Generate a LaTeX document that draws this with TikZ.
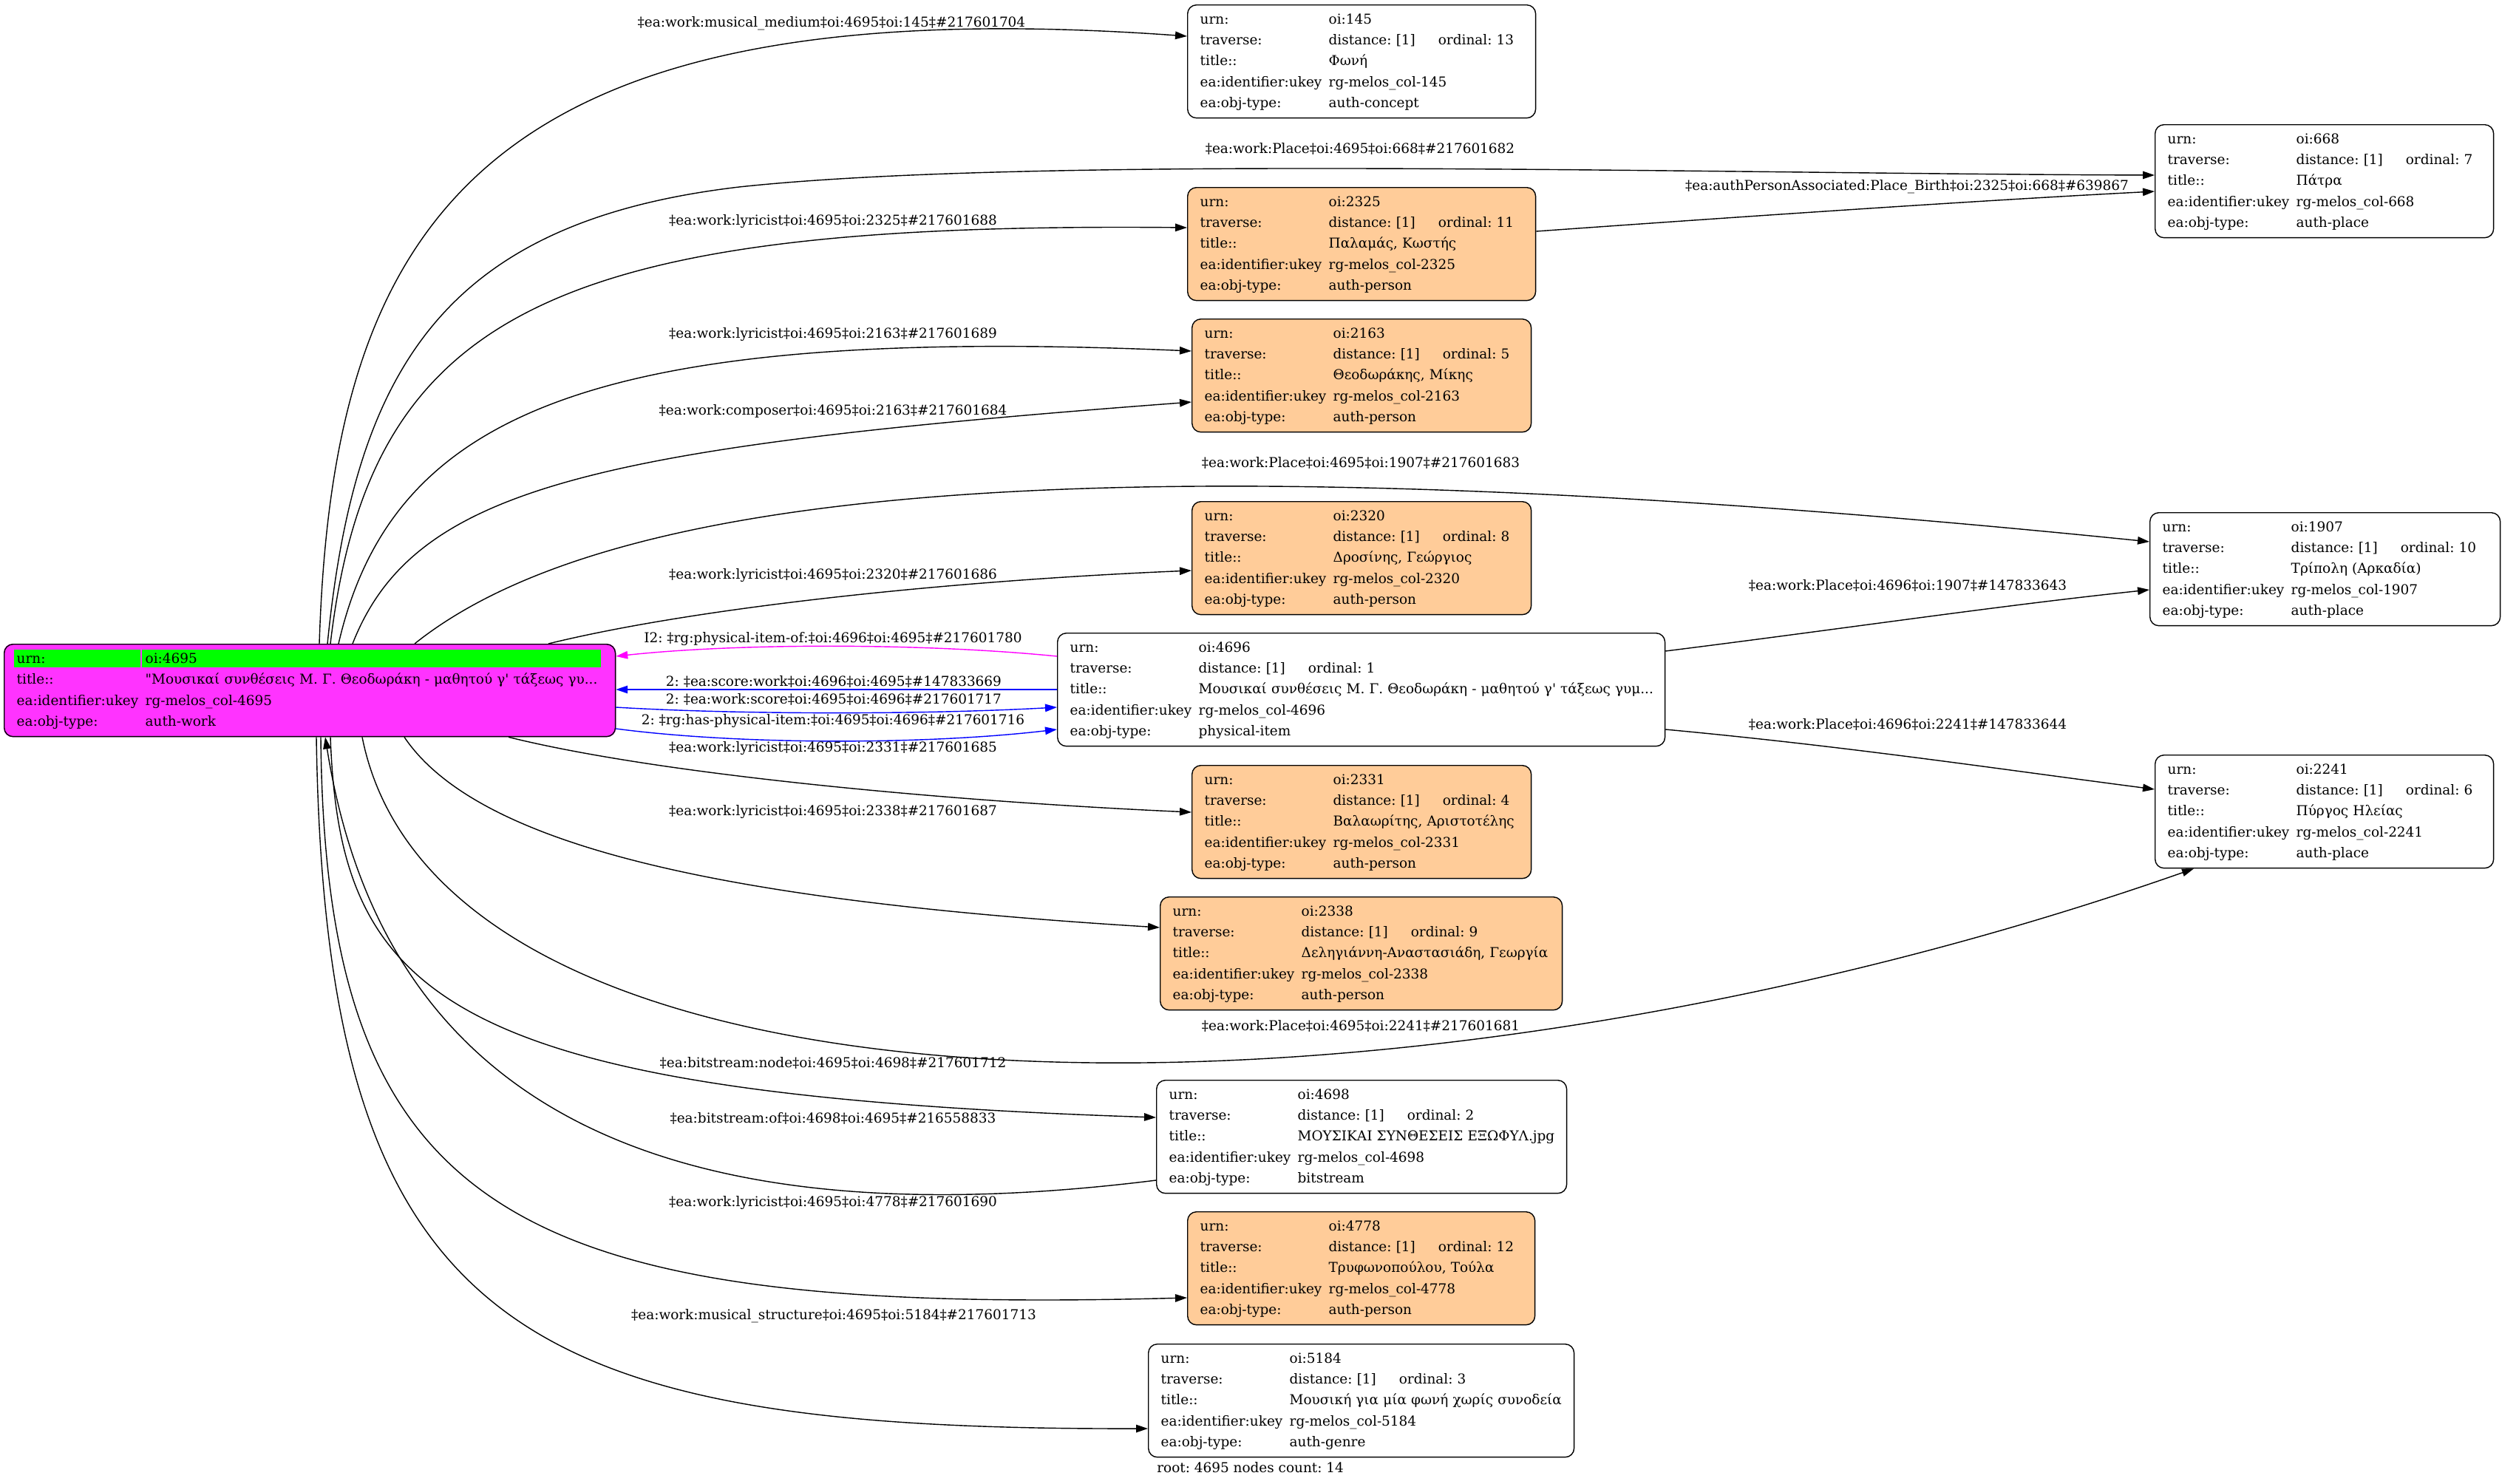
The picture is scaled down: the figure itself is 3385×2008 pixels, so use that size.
\documentclass[tikz,border=0pt]{standalone}
\usepackage{fontspec}
\newfontfamily\recfont{DejaVu Serif}
\usetikzlibrary{arrows.meta,backgrounds}
\definecolor{personfill}{HTML}{FFCC99}
\definecolor{rootfill}{HTML}{FF33FF}
\definecolor{urngreen}{HTML}{00FF00}
\definecolor{itemline}{HTML}{FF00FF}
\definecolor{scoreline}{HTML}{0000FF}
\frenchspacing

% record table: urn number, ordinal, title, object type
\newcommand{\objtable}[4]{%
  \begin{tabular}{@{}p{3.48cm}@{}l@{}}
    urn: & oi:#1\\
    traverse: & distance: [1]\hspace{0.62cm}ordinal: #2\\
    title:: & #3\\
    ea:identifier:ukey & rg-melos\_col-#1\\
    ea:obj-type: & #4
  \end{tabular}}

\begin{document}
\begin{tikzpicture}[x=0.02cm, y=-0.02cm,
    every node/.style={font=\recfont\fontsize{10.5pt}{16.1pt}\selectfont},
    rec/.style={draw, fill=white, rounded corners=0.24cm, anchor=north west,
      inner xsep=0.34cm, inner ysep=0pt, align=left, minimum height=3.06cm,
      line width=0.8pt},
    person/.style={rec, fill=personfill},
    lbl/.style={inner sep=0pt},
    rel/.style={-{Triangle[length=0.32cm,width=0.21cm]}, line width=0.8pt}]
  \useasboundingbox (0,0) rectangle (3385,2008);

  % root work
  \node[rec, fill=none, text width=15.86cm, minimum height=2.5cm] (root) at (5,871) {%
    \begin{tabular}{@{}p{3.48cm}@{}l@{}}
      urn: & oi:4695\\
      title:: & "Μουσικαί συνθέσεις Μ. Γ. Θεοδωράκη - μαθητού γ' τάξεως γυ...\\
      ea:identifier:ukey & rg-melos\_col-4695\\
      ea:obj-type: & auth-work
    \end{tabular}};
  \begin{scope}[on background layer]
    \fill[rootfill, rounded corners=0.24cm] (root.north west) rectangle (root.south east);
    \fill[urngreen] (19,879) rectangle (190,903);
    \fill[urngreen] (192,879) rectangle (813,903);
  \end{scope}

  % related records
  \node[rec, text width=8.74cm] (n145) at (1606,6) {\objtable{145}{13}{Φωνή}{auth-concept}};
  \node[rec, text width=8.48cm] (n668) at (2915,168) {\objtable{668}{7}{Πάτρα}{auth-place}};
  \node[person, text width=8.74cm] (n2325) at (1606,253) {\objtable{2325}{11}{Παλαμάς, Κωστής}{auth-person}};
  \node[person, text width=8.50cm] (n2163) at (1612,431) {\objtable{2163}{5}{Θεοδωράκης, Μίκης}{auth-person}};
  \node[person, text width=8.50cm] (n2320) at (1612,678) {\objtable{2320}{8}{Δροσίνης, Γεώργιος}{auth-person}};
  \node[rec, text width=8.80cm] (n1907) at (2908,693) {\objtable{1907}{10}{Τρίπολη (Αρκαδία)}{auth-place}};
  \node[rec, text width=15.76cm] (n4696) at (1430,856) {\objtable{4696}{1}{Μουσικαί συνθέσεις Μ. Γ. Θεοδωράκη - μαθητού γ' τάξεως γυμ...}{physical-item}};
  \node[rec, text width=8.48cm] (n2241) at (2915,1021) {\objtable{2241}{6}{Πύργος Ηλείας}{auth-place}};
  \node[person, text width=8.50cm] (n2331) at (1612,1035) {\objtable{2331}{4}{Βαλαωρίτης, Αριστοτέλης}{auth-person}};
  \node[person, text width=10.20cm] (n2338) at (1569,1213) {\objtable{2338}{9}{Δεληγιάννη-Αναστασιάδη, Γεωργία}{auth-person}};
  \node[rec, text width=10.42cm] (n4698) at (1564,1461) {\objtable{4698}{2}{ΜΟΥΣΙΚΑΙ ΣΥΝΘΕΣΕΙΣ ΕΞΩΦΥΛ.jpg}{bitstream}};
  \node[person, text width=8.72cm] (n4778) at (1606,1639) {\objtable{4778}{12}{Τρυφωνοπούλου, Τούλα}{auth-person}};
  \node[rec, text width=10.84cm] (n5184) at (1553,1818) {\objtable{5184}{3}{Μουσική για μία φωνή χωρίς συνοδεία}{auth-genre}};
  \node[lbl, anchor=west] (rootinfo) at (1565,1986) {root: 4695 nodes count: 14};

  % edges leaving the top of the root
  \draw[rel] (root.north -| 432,0) .. controls (450,300) and (650,-20) .. (n145.west |- 0,49);
  \draw[rel] (root.north -| 443,0) .. controls (480,500) and (600,300) .. (1000,253)
    .. controls (1400,210) and (2300,235) .. (n668.west |- 0,237);
  \draw[rel] (n2325.east |- 0,313) .. controls (2400,290) and (2700,270) .. (n668.west |- 0,259);
  \draw[rel] (root.north -| 447,0) .. controls (500,420) and (750,300) .. (n2325.west |- 0,308);
  \draw[rel] (root.north -| 458,0) .. controls (530,560) and (800,440) .. (n2163.west |- 0,475);
  \draw[rel] (root.north -| 477,0) .. controls (560,660) and (800,605) .. (n2163.west |- 0,544);
  \draw[rel] (root.north -| 561,0) .. controls (800,680) and (1400,580) .. (n1907.west |- 0,733);
  \draw[rel] (root.north -| 742,0) .. controls (950,820) and (1300,785) .. (n2320.west |- 0,772);

  % edges between the root and the physical item
  \draw[rel, itemline] (n4696.west |- 0,888) .. controls (1250,870) and (1000,870) .. (root.east |- 0,888);
  \draw[rel, scoreline] (n4696.west |- 0,933) -- (root.east |- 0,933);
  \draw[rel, scoreline] (root.east |- 0,957) .. controls (1000,967) and (1250,967) .. (n4696.west |- 0,957);
  \draw[rel, scoreline] (root.east |- 0,986) .. controls (1000,1008) and (1250,1008) .. (n4696.west |- 0,987);
  \draw[rel] (n4696.east |- 0,881) .. controls (2500,850) and (2700,820) .. (n1907.west |- 0,798);
  \draw[rel] (n4696.east |- 0,987) .. controls (2500,1010) and (2700,1040) .. (n2241.west |- 0,1068);

  % edges leaving the bottom of the root
  \draw[rel] (root.south -| 688,0) .. controls (900,1050) and (1300,1085) .. (n2331.west |- 0,1099);
  \draw[rel] (root.south -| 547,0) .. controls (650,1150) and (1000,1220) .. (n2338.west |- 0,1255);
  \draw[rel] (root.south -| 490,0) .. controls (600,1550) and (1900,1550) .. (n2241.south -| 2968,0);
  \draw[rel] (root.south -| 447,0) .. controls (460,1350) and (600,1480) .. (n4698.west |- 0,1512);
  \draw[rel] (n4698.west |- 0,1597) .. controls (900,1680) and (520,1500) .. (root.south -| 440,0);
  \draw[rel] (root.south -| 434,0) .. controls (440,1650) and (700,1780) .. (n4778.west |- 0,1756);
  \draw[rel] (root.south -| 428,0) .. controls (440,1800) and (700,1935) .. (n5184.west |- 0,1933);

  % edge labels
  \node[lbl] (l145) at (1125,32) {‡ea:work:musical\_medium‡oi:4695‡oi:145‡\#217601704};
  \node[lbl] (l668) at (1840,201) {‡ea:work:Place‡oi:4695‡oi:668‡\#217601682};
  \node[lbl] (lbirth) at (2580,253) {‡ea:authPersonAssociated:Place\_Birth‡oi:2325‡oi:668‡\#639867};
  \node[lbl] (l2325) at (1127,300) {‡ea:work:lyricist‡oi:4695‡oi:2325‡\#217601688};
  \node[lbl] (l2163a) at (1127,453) {‡ea:work:lyricist‡oi:4695‡oi:2163‡\#217601689};
  \node[lbl] (l2163b) at (1127,556) {‡ea:work:composer‡oi:4695‡oi:2163‡\#217601684};
  \node[lbl] (l1907a) at (1841,626) {‡ea:work:Place‡oi:4695‡oi:1907‡\#217601683};
  \node[lbl] (l2320) at (1127,779) {‡ea:work:lyricist‡oi:4695‡oi:2320‡\#217601686};
  \node[lbl] (l1907b) at (2581,792) {‡ea:work:Place‡oi:4696‡oi:1907‡\#147833643};
  \node[lbl] (litemof) at (1127,865) {I2: ‡rg:physical-item-of:‡oi:4696‡oi:4695‡\#217601780};
  \node[lbl] (lscorework) at (1128,922) {2: ‡ea:score:work‡oi:4696‡oi:4695‡\#147833669};
  \node[lbl] (lworkscore) at (1128,946) {2: ‡ea:work:score‡oi:4695‡oi:4696‡\#217601717};
  \node[lbl] (lhasitem) at (1127,976) {2: ‡rg:has-physical-item:‡oi:4695‡oi:4696‡\#217601716};
  \node[lbl] (l2241b) at (2581,980) {‡ea:work:Place‡oi:4696‡oi:2241‡\#147833644};
  \node[lbl] (l2331) at (1127,1013) {‡ea:work:lyricist‡oi:4695‡oi:2331‡\#217601685};
  \node[lbl] (l2338) at (1127,1099) {‡ea:work:lyricist‡oi:4695‡oi:2338‡\#217601687};
  \node[lbl] (l2241a) at (1841,1388) {‡ea:work:Place‡oi:4695‡oi:2241‡\#217601681};
  \node[lbl] (lbsnode) at (1127,1438) {‡ea:bitstream:node‡oi:4695‡oi:4698‡\#217601712};
  \node[lbl] (lbsof) at (1127,1513) {‡ea:bitstream:of‡oi:4698‡oi:4695‡\#216558833};
  \node[lbl] (l4778) at (1127,1628) {‡ea:work:lyricist‡oi:4695‡oi:4778‡\#217601690};
  \node[lbl] (l5184) at (1128,1781) {‡ea:work:musical\_structure‡oi:4695‡oi:5184‡\#217601713};
\end{tikzpicture}
\end{document}
